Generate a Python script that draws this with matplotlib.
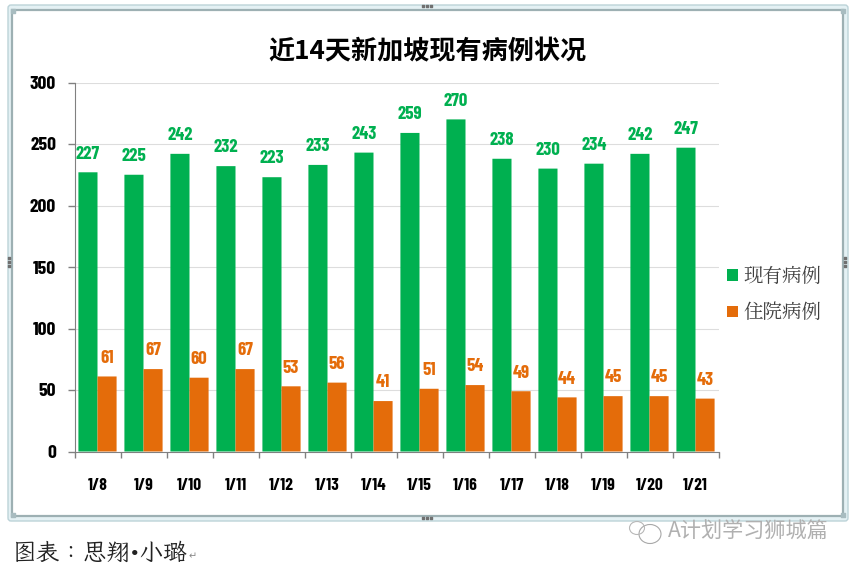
import matplotlib
matplotlib.use("Agg")
import matplotlib.pyplot as plt
import matplotlib.font_manager as fm
from matplotlib.patches import FancyBboxPatch, Ellipse
import numpy as np

dates = ["1/8", "1/9", "1/10", "1/11", "1/12", "1/13", "1/14", "1/15", "1/16", "1/17", "1/18", "1/19", "1/20", "1/21"]
current_cases = [227, 225, 242, 232, 223, 233, 243, 259, 270, 238, 230, 234, 242, 247]
hospital_cases = [61, 67, 60, 67, 53, 56, 41, 51, 54, 49, 44, 45, 45, 43]
y_ticks = [0, 50, 100, 150, 200, 250, 300]

GREEN = "#00B050"
ORANGE = "#E46C0A"

# 优先用窄体/宋体，没有就退回默认字体
installed = {f.name for f in fm.fontManager.ttflist}
NARROW = "Barlow Condensed" if "Barlow Condensed" in installed else "Liberation Sans"
SANS = ["Noto Sans CJK SC", "DejaVu Sans"]
SERIF = [n for n in ["Noto Serif CJK JP", "Noto Sans CJK SC"] if n in installed]
KAI = [n for n in ["LXGW WenKai TC", "Noto Serif CJK JP", "Noto Sans CJK SC", "DejaVu Sans"] if n in installed]

W, H = 856, 570
fig = plt.figure(figsize=(W / 100, H / 100), dpi=100)

# 背景层：外框、水印，用像素坐标
bg = fig.add_axes([0, 0, 1, 1])
bg.set_xlim(0, W)
bg.set_ylim(H, 0)
bg.axis("off")
bg.add_patch(FancyBboxPatch((8, 5), 840, 516, boxstyle="round,pad=0,rounding_size=3",
                            fc="#E4F1F4", ec="#BCD3D8", lw=1))
bg.add_patch(plt.Rectangle((12, 10), 831, 506, fc="white", ec="#9DB0B3", lw=1.6))

for x, y in [(427, 6), (427, 518)]:
    bg.scatter([x - 4, x, x + 4], [y] * 3, s=1.5, color="#707070", marker="s")
for x, y in [(9, 262), (845, 262)]:
    bg.scatter([x] * 3, [y - 4, y, y + 4], s=1.5, color="#707070", marker="s")
for x, y in [(13, 11), (13, 515), (843, 515), (843, 11)]:
    bg.scatter([x], [y], s=6, color="#A8BCC0", marker="s")

# 主图
left, right, top, bottom = 74.5, 718.5, 82.5, 451.5
ax = fig.add_axes([left / W, 1 - bottom / H, (right - left) / W, (bottom - top) / H])
ax.patch.set_alpha(0)

x = np.arange(len(dates))
bar_w = 0.415
ax.bar(x - bar_w / 2, current_cases, bar_w, color=GREEN, label="现有病例", zorder=3, linewidth=0, snap=False)
ax.bar(x + bar_w / 2, hospital_cases, bar_w, color=ORANGE, label="住院病例", zorder=3, linewidth=0, snap=False)

for i in x:
    ax.annotate(str(current_cases[i]), (i - bar_w / 2, current_cases[i]), xytext=(0, 7),
                textcoords="offset points", ha="center", va="bottom",
                color=GREEN, fontsize=13.5, fontweight="bold", family=NARROW)
    ax.annotate(str(hospital_cases[i]), (i + bar_w / 2, hospital_cases[i]), xytext=(0, 7),
                textcoords="offset points", ha="center", va="bottom",
                color=ORANGE, fontsize=13.5, fontweight="bold", family=NARROW)

ax.set_xlim(-0.5, len(dates) - 0.5)
ax.set_ylim(0, 300)
ax.set_yticks(y_ticks)
ax.set_yticklabels([str(v) for v in y_ticks], fontsize=14, fontweight="bold", family=NARROW, color="black")
ax.set_xticks(np.arange(len(dates) + 1) - 0.5)
ax.set_xticklabels([])
ax.set_xticks(x, minor=True)
ax.set_xticklabels(dates, minor=True, fontsize=12.5, fontweight="bold", family=NARROW, color="black")
ax.tick_params(axis="x", which="minor", length=0, pad=19)
ax.tick_params(axis="x", which="major", length=4.3, color="#808080", width=1)
ax.tick_params(axis="y", length=4.7, color="#808080", width=1, pad=8.6)
ax.grid(axis="y", color="#DDDDDD", lw=0.8, zorder=0)
ax.set_axisbelow(True)
for s in ["top", "right"]:
    ax.spines[s].set_visible(False)
for s in ["left", "bottom"]:
    ax.spines[s].set_color("#808080")

fig.text(427 / W, 1 - 52 / H, "近14天新加坡现有病例状况", ha="center", va="center",
         fontsize=18.8, fontweight="bold", family=SANS, color="black")

leg = ax.legend(loc="center left", bbox_to_anchor=(727 / W, 1 - 295 / H), bbox_transform=fig.transFigure,
                frameon=False, handlelength=0.55, handleheight=0.55, handletextpad=0.3,
                labelspacing=0.85, borderpad=0, borderaxespad=0,
                prop=fm.FontProperties(family=SERIF, size=14))
for t in leg.get_texts():
    t.set_color("#404040")

# 页脚和水印
fig.text(12 / W, 1 - 553 / H, "图表：思翔•小璐", ha="left", va="center", fontsize=17, family=KAI, color="#222222")
fig.text(189 / W, 1 - 556 / H, "↵", ha="left", va="center", fontsize=7, family="DejaVu Sans", color="#888888")
fig.text(668 / W, 1 - 532 / H, "A计划学习狮城篇", ha="left", va="center", fontsize=15.2, family=SANS, color="#B0B0B0")
bg.add_patch(Ellipse((650, 534), 22, 19, fc="white", ec="#A8A8A8", lw=0.8))
bg.add_patch(Ellipse((637, 528), 15, 13, fc="none", ec="#B8B8B8", lw=0.8))

fig.savefig("out.png", dpi=100)
